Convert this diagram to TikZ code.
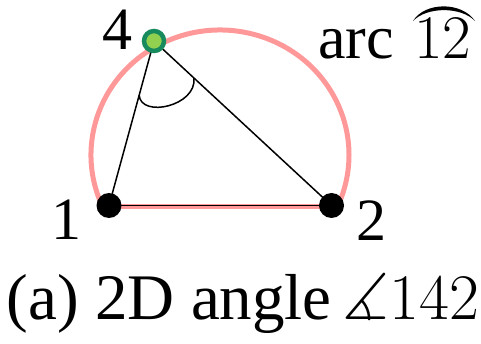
\RequirePackage{fix-cm}
\documentclass[tikz,border=0pt]{standalone}
\usepackage{amssymb}
\usepackage{fontspec}
\setmainfont{Liberation Serif}
\usetikzlibrary{calc}
\definecolor{arcpink}{HTML}{FF9999}
\definecolor{ringgreen}{HTML}{178A5E}
\definecolor{fillgreen}{HTML}{92D050}
\begin{document}
\begin{tikzpicture}[x=1pt,y=-1pt,
  lbl/.style={font=\fontsize{60}{66}\selectfont, inner sep=0pt, anchor=base},
  capt/.style={font=\fontsize{65}{72}\selectfont, inner sep=0pt, anchor=base},
  pinkline/.style={draw=arcpink, line width=5pt, line cap=round},
  edge/.style={draw=black, line width=1.5pt},
  bdot/.style={circle, fill=black, minimum size=25pt, inner sep=0pt},
  gdot/.style={circle, fill=fillgreen, draw=ringgreen, line width=4.5pt, minimum size=20pt, inner sep=0pt}]
\useasboundingbox (0,0) rectangle (481,344);
% anchor points
\coordinate (c1) at (109,205.5);
\coordinate (c2) at (331.5,205.5);
\coordinate (c4) at (154,41);
\coordinate (ac) at (220,155);
% pink arc 12 through 4
\draw[pinkline] (ac) ++(155:129 and 125)
  arc[start angle=155, end angle=385, x radius=129, y radius=125];
\draw[pinkline, line cap=butt] ($(c1)+(0,1)$) -- ($(c2)+(0,1)$);
% triangle edges
\draw[edge] (c1) -- (c2);
\draw[edge] (c4) -- (c1);
\draw[edge] (c4) -- (c2);
% angle mark at 4
\coordinate (ma) at ($(c4)!0.33!(c1)$);
\coordinate (mb) at ($(c4)!0.225!(c2)$);
\draw[edge] (ma) .. controls +(2,23) and +(3,28) .. (mb);
% points
\node[bdot] (p1) at (c1) {};
\node[bdot] (p2) at (c2) {};
\node[gdot] (p4) at (c4) {};
% labels
\node[lbl] (l4) at (117,50) {4};
\node[lbl] (l1) at (66,240) {1};
\node[lbl] (l2) at (371.5,241) {2};
\node[lbl, anchor=base west, font=\fontsize{62}{68}\selectfont] (arcword) at (318,59) {arc};
\node[lbl, font=\fontsize{62}{68}\selectfont] (n12) at (443,59) {$12$};
\fill[black] (413,21) .. controls (425,1.5) and (462,1.5) .. (475,21)
  .. controls (461,6.5) and (427,6.5) .. (413,21) -- cycle;
\node[capt] (cap) at (243,319) {(a) 2D angle$\,\measuredangle 142$};
\end{tikzpicture}
\end{document}
